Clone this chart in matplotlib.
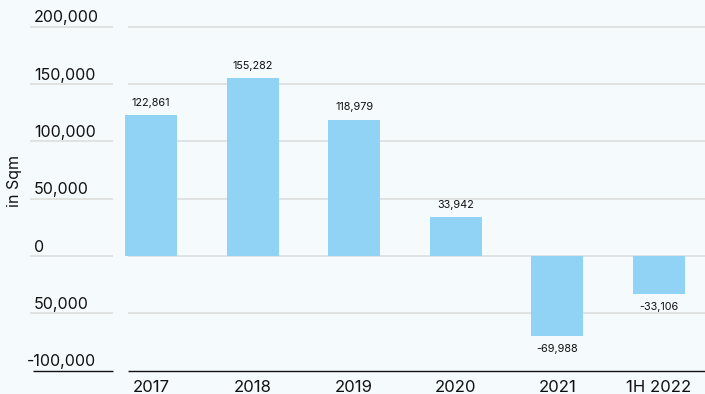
import matplotlib
matplotlib.use("Agg")
import matplotlib.pyplot as plt

# data
categories = ["2017", "2018", "2019", "2020", "2021", "1H 2022"]
values = [122861, 155282, 118979, 33942, -69988, -33106]
value_labels = ["122,861", "155,282", "118,979", "33,942", "-69,988", "-33,106"]
grid_values = [200000, 150000, 100000, 50000, 0, -50000, -100000]
grid_labels = ["200,000", "150,000", "100,000", "50,000", "0", "50,000", "-100,000"]

W, H = 705, 394
bg = "#f5fafd"
bar_color = "#90d3f4"
plt.rcParams["font.family"] = ["Inter", "DejaVu Sans"]

fig = plt.figure(figsize=(W / 100, H / 100), dpi=100, facecolor=bg)
ax = fig.add_axes([0, 0, 1, 1])
ax.set_facecolor(bg)

# pixel layout -> data limits
x0_px, step_px = 151, 101.6
ax.set_xlim((0 - x0_px) / step_px, (W - x0_px) / step_px)
zero_px, px_per_50k = 256, 57.3
ax.set_ylim(-(H - zero_px) / px_per_50k * 50000, zero_px / px_per_50k * 50000)

xs = list(range(len(categories)))
ax.bar(xs, values, width=52 / step_px, color=bar_color, zorder=2)

# gridlines split in two segments, labels sitting on the left part
ytr = ax.get_yaxis_transform()
for v, lab in zip(grid_values, grid_labels):
    last = v == grid_values[-1]
    col = "#111111" if last else "#dcdcdc"
    lw = 1.0 if last else 1.1
    left = 33 / W if last else 30 / W
    ax.plot([left, 113 / W], [v, v], transform=ytr, color=col, lw=lw,
            solid_capstyle="butt", zorder=1)
    ax.plot([128 / W, 1], [v, v], transform=ytr, color=col, lw=lw,
            solid_capstyle="butt", zorder=1)
    xpos = 27 / W if lab.startswith("-") else 34 / W
    ax.annotate(lab, xy=(xpos, v), xycoords=("axes fraction", "data"),
                xytext=(0, 1), textcoords="offset points",
                ha="left", va="bottom", fontsize=11.5, color="#111111")

for x, v, lab in zip(xs, values, value_labels):
    off = 9 if v >= 0 else -9.5
    ax.annotate(lab, xy=(x, v), xytext=(0, off), textcoords="offset points",
                ha="center", va="center", fontsize=7.8, color="#111111")

for x, c in zip(xs, categories):
    ax.annotate(c, xy=(x, 0), xycoords=("data", "figure pixels"),
                xytext=(0, 4.5), textcoords="offset points",
                ha="center", va="center", fontsize=12, color="#111111")

fig.text(15 / W, 1 - 181 / H, "in Sqm", rotation=90, ha="center", va="center",
         fontsize=11.5, color="#111111")

ax.axis("off")
fig.savefig("out.png", dpi=100, facecolor=bg)
